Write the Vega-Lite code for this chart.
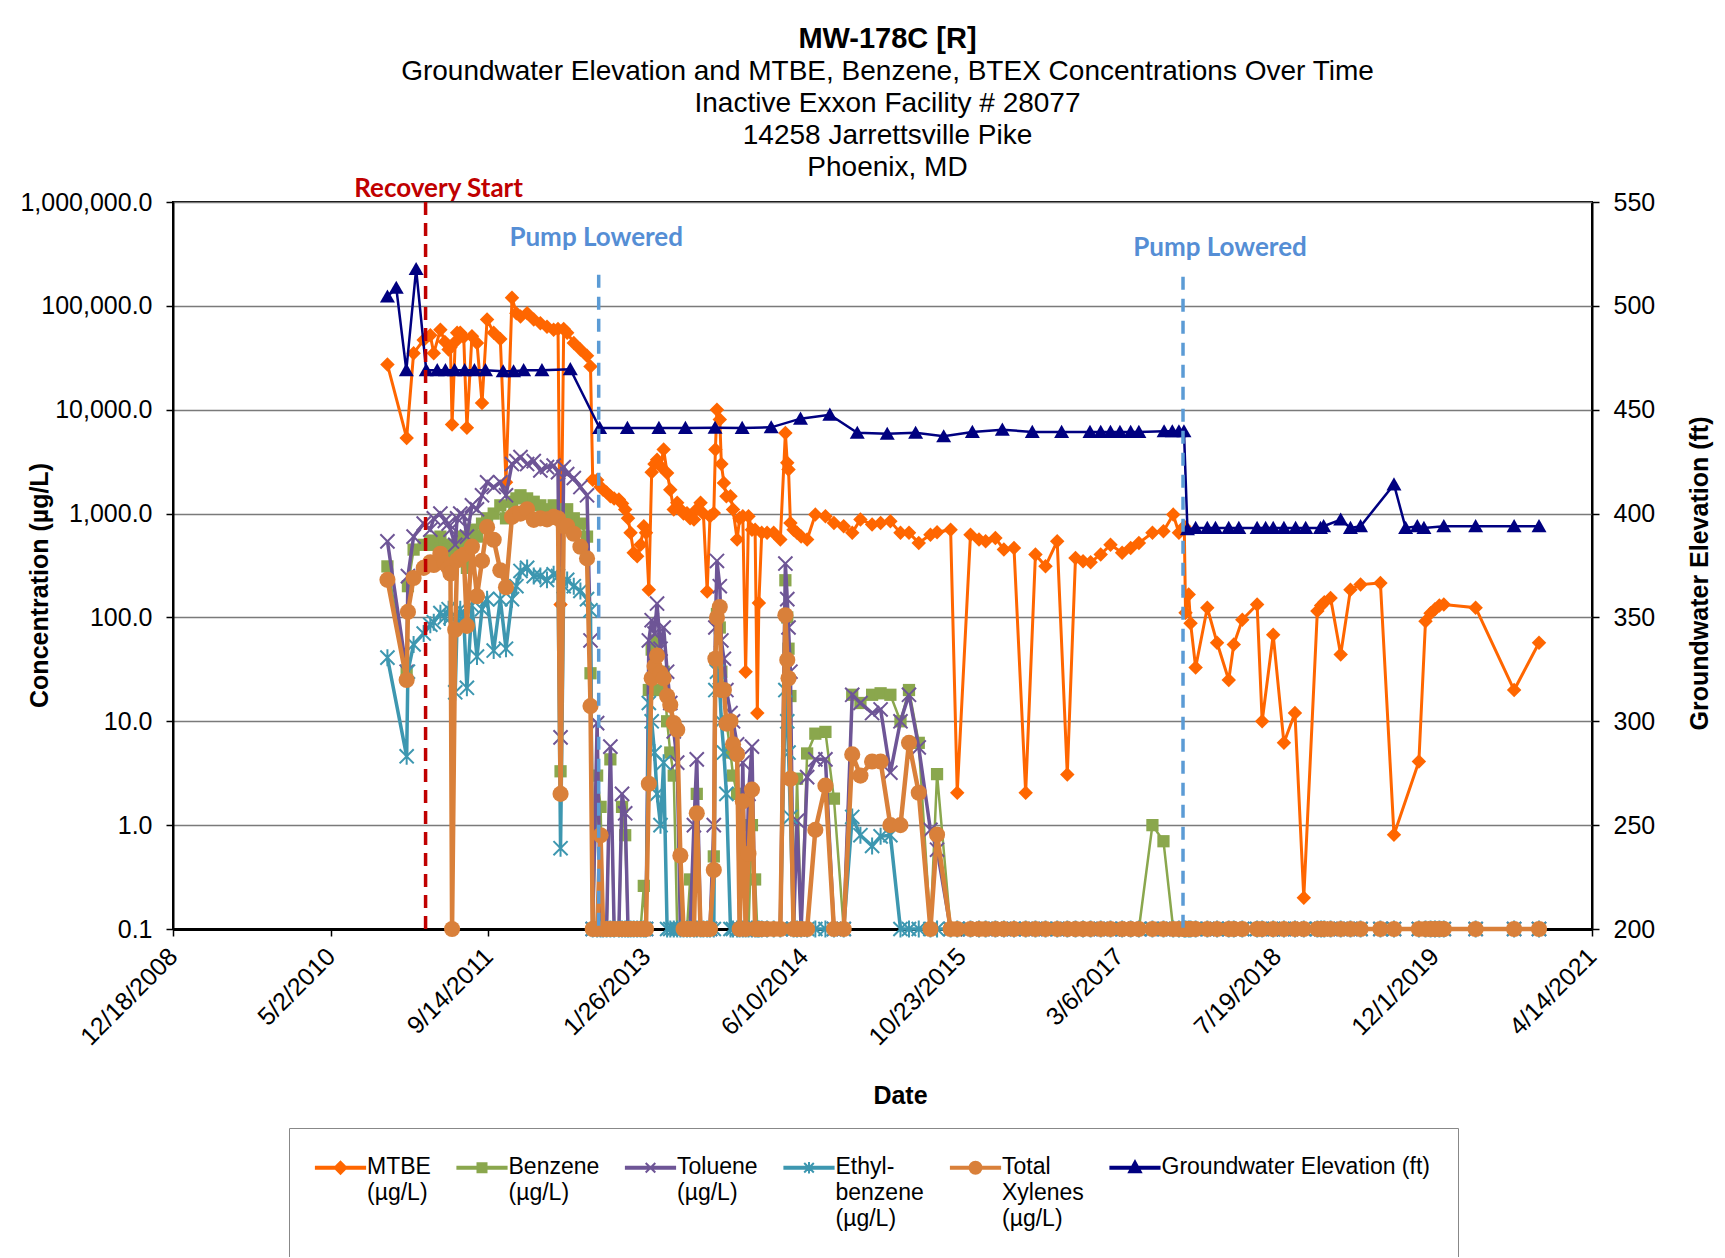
{
"$schema":"https://vega.github.io/schema/vega-lite/v6.json",
"width":1419,"height":727,
"autosize":"none",
"padding":{"left":173,"top":202,"right":133,"bottom":328},
"background":"white",
"config":{
 "font":"Liberation Sans",
 "view":{"stroke":"black","strokeWidth":2},
 "axis":{"labelFont":"Liberation Sans","labelFontSize":25,"labelColor":"black","titleFont":"Liberation Sans","titleFontSize":25,"titleFontWeight":"bold","titleColor":"black","domainColor":"black","tickColor":"black","labelOverlap":false,"labelFlush":false}
},
"title":{"text":"MW-178C [R]","subtitle":["Groundwater Elevation and MTBE, Benzene, BTEX Concentrations Over Time","Inactive Exxon Facility # 28077","14258 Jarrettsville Pike","Phoenix, MD"],"font":"Liberation Sans","fontSize":29,"fontWeight":"bold","color":"black","subtitleFont":"Liberation Sans","subtitleFontSize":28,"subtitleColor":"black","subtitleLineHeight":32,"subtitlePadding":4,"anchor":"middle","frame":"group","offset":-6,"dx":5},
"encoding":{"x":{"field":"d","type":"temporal","title":"Date",
 "scale":{"type":"utc","nice":false,"domain":[{"year":2008,"month":12,"date":18,"utc":true},{"year":2021,"month":4,"date":14,"utc":true}]},
 "axis":{"values":[{"year":2008,"month":12,"date":18,"utc":true},{"year":2010,"month":5,"date":2,"utc":true},{"year":2011,"month":9,"date":14,"utc":true},{"year":2013,"month":1,"date":26,"utc":true},{"year":2014,"month":6,"date":10,"utc":true},{"year":2015,"month":10,"date":23,"utc":true},{"year":2017,"month":3,"date":6,"utc":true},{"year":2018,"month":7,"date":19,"utc":true},{"year":2019,"month":12,"date":1,"utc":true},{"year":2021,"month":4,"date":14,"utc":true}],
  "format":"%-m/%-d/%Y","labelAngle":-45,"labelAlign":"right","labelBaseline":"middle","grid":false,"tickSize":7,"tickWidth":1.5,"domainWidth":3,"labelPadding":16,"titleX":727,"titleY":166,"titleBaseline":"middle","titleAlign":"center"}}},
"layer":[
 {"data":{"values":[
{"d":"2010-10-29","M":27200,"B":310,"T":540,"E":41,"X":230},
{"d":"2010-12-29","M":5350,"B":30,"T":30,"E":4.6,"X":25},
{"d":"2011-01-02","M":null,"B":200,"T":250,"E":30,"X":113},
{"d":"2011-01-20","M":35000,"B":450,"T":600,"E":55,"X":240},
{"d":"2011-02-21","M":47000,"B":500,"T":800,"E":70,"X":300},
{"d":"2011-03-14","M":52000,"B":550,"T":700,"E":85,"X":340},
{"d":"2011-03-25","M":35000,"B":500,"T":900,"E":90,"X":320},
{"d":"2011-04-15","M":59000,"B":600,"T":1000,"E":110,"X":410},
{"d":"2011-04-29","M":45000,"B":500,"T":850,"E":100,"X":330},
{"d":"2011-05-11","M":38000,"B":450,"T":800,"E":120,"X":300},
{"d":"2011-05-17","M":40000,"B":400,"T":700,"E":100,"X":265},
{"d":"2011-05-22","M":7200,"B":null,"T":null,"E":null,"X":0.1},
{"d":"2011-06-01","M":45000,"B":350,"T":500,"E":19,"X":76},
{"d":"2011-06-07","M":55000,"B":500,"T":900,"E":90,"X":355},
{"d":"2011-06-17","M":55000,"B":600,"T":1000,"E":120,"X":380},
{"d":"2011-06-28","M":50000,"B":550,"T":950,"E":100,"X":400},
{"d":"2011-07-08","M":6700,"B":300,"T":600,"E":21,"X":83},
{"d":"2011-07-24","M":51000,"B":700,"T":1200,"E":130,"X":480},
{"d":"2011-08-09","M":44000,"B":600,"T":1100,"E":42,"X":160},
{"d":"2011-08-25","M":11600,"B":800,"T":1500,"E":120,"X":350},
{"d":"2011-09-10","M":74000,"B":900,"T":2000,"E":150,"X":740},
{"d":"2011-10-01","M":55000,"B":1000,"T":1800,"E":48,"X":560},
{"d":"2011-10-22","M":48000,"B":1200,"T":2000,"E":150,"X":285},
{"d":"2011-11-09","M":2000,"B":900,"T":1500,"E":50,"X":195},
{"d":"2011-11-28","M":120000,"B":1300,"T":3000,"E":150,"X":930},
{"d":"2011-12-12","M":85000,"B":1400,"T":3200,"E":200,"X":1000},
{"d":"2011-12-25","M":79000,"B":1500,"T":3500,"E":280,"X":1000},
{"d":"2012-01-15","M":85000,"B":1400,"T":3000,"E":300,"X":1100},
{"d":"2012-02-05","M":74000,"B":1300,"T":3200,"E":250,"X":870},
{"d":"2012-02-26","M":68000,"B":1200,"T":2600,"E":250,"X":900},
{"d":"2012-03-18","M":63000,"B":1100,"T":2800,"E":230,"X":880},
{"d":"2012-04-08","M":59000,"B":1200,"T":2900,"E":260,"X":930},
{"d":"2012-04-22","M":60000,"B":1100,"T":2500,"E":250,"X":900},
{"d":"2012-04-30","M":133,"B":3.3,"T":7,"E":0.6,"X":2},
{"d":"2012-05-10","M":60000,"B":1000,"T":2800,"E":200,"X":760},
{"d":"2012-05-21","M":55000,"B":1100,"T":2400,"E":230,"X":760},
{"d":"2012-06-11","M":44000,"B":900,"T":2200,"E":200,"X":640},
{"d":"2012-07-02","M":38000,"B":800,"T":1800,"E":180,"X":480},
{"d":"2012-07-23","M":33000,"B":600,"T":1500,"E":150,"X":370},
{"d":"2012-08-03","M":26000,"B":29,"T":60,"E":117,"X":14},
{"d":"2012-08-10","M":2120,"B":0.1,"T":0.1,"E":0.1,"X":0.1},
{"d":"2012-08-24","M":2100,"B":3,"T":9.6,"E":0.1,"X":0.1},
{"d":"2012-09-04","M":1800,"B":1.5,"T":0.1,"E":0.1,"X":0.8},
{"d":"2012-09-12","M":1700,"B":0.1,"T":0.1,"E":0.1,"X":0.1},
{"d":"2012-09-23","M":1600,"B":0.1,"T":0.1,"E":0.1,"X":0.1},
{"d":"2012-10-05","M":1470,"B":4.3,"T":5.7,"E":0.1,"X":0.1},
{"d":"2012-10-17","M":1400,"B":0.1,"T":0.1,"E":0.1,"X":0.1},
{"d":"2012-11-01","M":1365,"B":0.1,"T":0.1,"E":0.1,"X":0.1},
{"d":"2012-11-11","M":1250,"B":1.5,"T":2,"E":0.1,"X":0.1},
{"d":"2012-11-21","M":1094,"B":0.8,"T":1.3,"E":0.1,"X":0.1},
{"d":"2012-11-30","M":900,"B":0.1,"T":0.1,"E":0.1,"X":0.1},
{"d":"2012-12-08","M":652,"B":0.1,"T":0.1,"E":0.1,"X":0.1},
{"d":"2012-12-18","M":419,"B":0.1,"T":0.1,"E":0.1,"X":0.1},
{"d":"2012-12-29","M":388,"B":0.1,"T":0.1,"E":0.1,"X":0.1},
{"d":"2013-01-09","M":500,"B":0.1,"T":0.1,"E":0.1,"X":0.1},
{"d":"2013-01-19","M":755,"B":0.26,"T":0.1,"E":0.1,"X":0.1},
{"d":"2013-01-26","M":652,"B":0.1,"T":0.1,"E":0.1,"X":0.1},
{"d":"2013-02-04","M":185,"B":20,"T":60,"E":15,"X":2.5},
{"d":"2013-02-13","M":2500,"B":49,"T":94,"E":10,"X":26},
{"d":"2013-02-22","M":3000,"B":30,"T":70,"E":5,"X":34},
{"d":"2013-03-02","M":3300,"B":60,"T":136,"E":2,"X":43},
{"d":"2013-03-13","M":2860,"B":20,"T":50,"E":1,"X":29},
{"d":"2013-03-23","M":4130,"B":30,"T":80,"E":4,"X":26},
{"d":"2013-04-03","M":2460,"B":10,"T":30,"E":0.1,"X":17.5},
{"d":"2013-04-13","M":1700,"B":5,"T":15,"E":0.1,"X":14.4},
{"d":"2013-04-24","M":1094,"B":3,"T":8,"E":0.1,"X":9.6},
{"d":"2013-05-05","M":1270,"B":0.1,"T":4,"E":0.1,"X":8.3},
{"d":"2013-05-15","M":1100,"B":0.1,"T":0.1,"E":0.1,"X":0.51},
{"d":"2013-05-25","M":1000,"B":0.1,"T":0.1,"E":0.1,"X":0.1},
{"d":"2013-06-05","M":1010,"B":0.1,"T":0.1,"E":0.1,"X":0.1},
{"d":"2013-06-15","M":900,"B":0.3,"T":0.1,"E":0.1,"X":0.1},
{"d":"2013-06-27","M":877,"B":0.1,"T":1,"E":0.1,"X":0.1},
{"d":"2013-07-06","M":1100,"B":2,"T":4.3,"E":0.1,"X":1.3},
{"d":"2013-07-18","M":1270,"B":0.1,"T":0.1,"E":0.1,"X":0.1},
{"d":"2013-07-27","M":1000,"B":0.1,"T":0.1,"E":0.1,"X":0.1},
{"d":"2013-08-08","M":178,"B":0.1,"T":0.1,"E":0.1,"X":0.1},
{"d":"2013-08-17","M":943,"B":0.1,"T":0.1,"E":0.1,"X":0.1},
{"d":"2013-08-29","M":1010,"B":0.5,"T":1,"E":0.1,"X":0.37},
{"d":"2013-09-03","M":4130,"B":40,"T":80,"E":20,"X":40},
{"d":"2013-09-08","M":10000,"B":108,"T":350,"E":30,"X":100},
{"d":"2013-09-17","M":8040,"B":80,"T":200,"E":20,"X":126},
{"d":"2013-09-22","M":3000,"B":30,"T":60,"E":10,"X":20},
{"d":"2013-09-30","M":1970,"B":20,"T":40,"E":5,"X":20},
{"d":"2013-10-08","M":1470,"B":10,"T":20,"E":2,"X":9.5},
{"d":"2013-10-21","M":1470,"B":5,"T":12,"E":0.1,"X":10},
{"d":"2013-10-29","M":1094,"B":3,"T":10,"E":0.1,"X":6},
{"d":"2013-11-11","M":562,"B":2,"T":6,"E":0.1,"X":4.8},
{"d":"2013-11-19","M":900,"B":0.1,"T":0.1,"E":0.1,"X":0.1},
{"d":"2013-11-29","M":943,"B":1,"T":4,"E":0.1,"X":1.7},
{"d":"2013-12-08","M":30,"B":0.1,"T":0.1,"E":0.1,"X":0.1},
{"d":"2013-12-17","M":943,"B":0.1,"T":2,"E":0.1,"X":0.53},
{"d":"2013-12-28","M":700,"B":1,"T":5.7,"E":0.1,"X":2.2},
{"d":"2014-01-07","M":700,"B":0.3,"T":0.1,"E":0.1,"X":0.1},
{"d":"2014-01-14","M":12,"B":0.1,"T":0.1,"E":0.1,"X":0.1},
{"d":"2014-01-19","M":138,"B":0.1,"T":0.1,"E":0.1,"X":0.1},
{"d":"2014-01-28","M":652,"B":0.1,"T":0.1,"E":0.1,"X":0.1},
{"d":"2014-02-14","M":652,"B":0.1,"T":0.1,"E":0.1,"X":0.1},
{"d":"2014-03-07","M":652,"B":0.1,"T":0.1,"E":0.1,"X":0.1},
{"d":"2014-03-28","M":562,"B":0.1,"T":0.1,"E":0.1,"X":0.1},
{"d":"2014-04-13","M":5980,"B":228,"T":330,"E":20,"X":105},
{"d":"2014-04-19","M":3080,"B":100,"T":150,"E":10,"X":39},
{"d":"2014-04-23","M":2650,"B":50,"T":80,"E":5,"X":26},
{"d":"2014-04-29","M":813,"B":17.5,"T":30,"E":1.2,"X":2.8},
{"d":"2014-05-09","M":700,"B":0.1,"T":0.1,"E":0.1,"X":0.1},
{"d":"2014-05-20","M":652,"B":2.8,"T":1.1,"E":0.1,"X":0.1},
{"d":"2014-06-02","M":600,"B":0.1,"T":0.1,"E":0.1,"X":0.1},
{"d":"2014-06-21","M":562,"B":4.9,"T":2.9,"E":0.1,"X":0.1},
{"d":"2014-07-17","M":977,"B":7.6,"T":4.3,"E":0.1,"X":0.9},
{"d":"2014-08-18","M":943,"B":7.9,"T":4.3,"E":0.1,"X":2.4},
{"d":"2014-09-14","M":813,"B":1.8,"T":0.1,"E":0.1,"X":0.1},
{"d":"2014-10-15","M":755,"B":0.1,"T":0.1,"E":0.1,"X":0.1},
{"d":"2014-11-11","M":652,"B":18,"T":18,"E":1.2,"X":4.8},
{"d":"2014-12-07","M":877,"B":15,"T":15,"E":0.8,"X":3},
{"d":"2015-01-13","M":783,"B":18,"T":12,"E":0.63,"X":4.1},
{"d":"2015-02-09","M":813,"B":18.6,"T":13,"E":0.78,"X":4.1},
{"d":"2015-03-12","M":843,"B":18,"T":3.2,"E":0.8,"X":1},
{"d":"2015-04-13","M":652,"B":10,"T":10,"E":0.1,"X":1},
{"d":"2015-05-10","M":652,"B":20,"T":18,"E":0.1,"X":6.2},
{"d":"2015-06-10","M":522,"B":6.2,"T":5.6,"E":0.1,"X":2.05},
{"d":"2015-07-17","M":626,"B":0.1,"T":0.9,"E":0.1,"X":0.1},
{"d":"2015-08-07","M":662,"B":3.1,"T":0.58,"E":0.1,"X":0.81},
{"d":"2015-09-19","M":700,"B":0.1,"T":0.1,"E":0.1,"X":0.1},
{"d":"2015-10-10","M":2.05,"B":0.1,"T":0.1,"E":0.1,"X":0.1},
{"d":"2015-11-21","M":626,"B":0.1,"T":0.1,"E":0.1,"X":0.1},
{"d":"2015-12-18","M":562,"B":0.1,"T":0.1,"E":0.1,"X":0.1},
{"d":"2016-01-08","M":542,"B":0.1,"T":0.1,"E":0.1,"X":0.1},
{"d":"2016-02-08","M":583,"B":0.1,"T":0.1,"E":0.1,"X":0.1},
{"d":"2016-03-06","M":450,"B":0.1,"T":0.1,"E":0.1,"X":0.1},
{"d":"2016-04-07","M":467,"B":0.1,"T":0.1,"E":0.1,"X":0.1},
{"d":"2016-05-14","M":2.05,"B":0.1,"T":0.1,"E":0.1,"X":0.1},
{"d":"2016-06-14","M":404,"B":0.1,"T":0.1,"E":0.1,"X":0.1},
{"d":"2016-07-16","M":311,"B":0.1,"T":0.1,"E":0.1,"X":0.1},
{"d":"2016-08-22","M":542,"B":0.1,"T":0.1,"E":0.1,"X":0.1},
{"d":"2016-09-23","M":3.08,"B":0.1,"T":0.1,"E":0.1,"X":0.1},
{"d":"2016-10-19","M":374,"B":0.1,"T":0.1,"E":0.1,"X":0.1},
{"d":"2016-11-12","M":347,"B":0.1,"T":0.1,"E":0.1,"X":0.1},
{"d":"2016-12-06","M":340,"B":0.1,"T":0.1,"E":0.1,"X":0.1},
{"d":"2017-01-07","M":404,"B":0.1,"T":0.1,"E":0.1,"X":0.1},
{"d":"2017-02-07","M":502,"B":0.1,"T":0.1,"E":0.1,"X":0.1},
{"d":"2017-03-16","M":419,"B":0.1,"T":0.1,"E":0.1,"X":0.1},
{"d":"2017-04-12","M":467,"B":0.1,"T":0.1,"E":0.1,"X":0.1},
{"d":"2017-05-08","M":522,"B":0.1,"T":0.1,"E":0.1,"X":0.1},
{"d":"2017-06-20","M":652,"B":1.0,"T":0.1,"E":0.1,"X":0.1},
{"d":"2017-07-25","M":677,"B":0.7,"T":0.1,"E":0.1,"X":0.1},
{"d":"2017-08-25","M":977,"B":0.1,"T":0.1,"E":0.1,"X":0.1},
{"d":"2017-09-12","M":652,"B":0.1,"T":0.1,"E":0.1,"X":0.1},
{"d":"2017-09-29","M":750,"B":0.1,"T":0.1,"E":0.1,"X":0.1},
{"d":"2017-10-03","M":111,"B":0.1,"T":0.1,"E":0.1,"X":0.1},
{"d":"2017-10-13","M":166,"B":0.1,"T":0.1,"E":0.1,"X":0.1},
{"d":"2017-10-19","M":88,"B":0.1,"T":0.1,"E":0.1,"X":0.1},
{"d":"2017-11-04","M":33,"B":0.1,"T":0.1,"E":0.1,"X":0.1},
{"d":"2017-12-11","M":124,"B":0.1,"T":0.1,"E":0.1,"X":0.1},
{"d":"2018-01-11","M":57,"B":0.1,"T":0.1,"E":0.1,"X":0.1},
{"d":"2018-02-17","M":25,"B":0.1,"T":0.1,"E":0.1,"X":0.1},
{"d":"2018-03-05","M":55,"B":0.1,"T":0.1,"E":0.1,"X":0.1},
{"d":"2018-04-01","M":95,"B":0.1,"T":0.1,"E":0.1,"X":0.1},
{"d":"2018-05-18","M":133,"B":0.1,"T":0.1,"E":0.1,"X":0.1},
{"d":"2018-06-03","M":10,"B":0.1,"T":0.1,"E":0.1,"X":0.1},
{"d":"2018-07-08","M":68,"B":0.1,"T":0.1,"E":0.1,"X":0.1},
{"d":"2018-08-11","M":6.2,"B":0.1,"T":0.1,"E":0.1,"X":0.1},
{"d":"2018-09-15","M":12,"B":0.1,"T":0.1,"E":0.1,"X":0.1},
{"d":"2018-10-13","M":0.2,"B":0.1,"T":0.1,"E":0.1,"X":0.1},
{"d":"2018-11-25","M":115,"B":0.1,"T":0.1,"E":0.1,"X":0.1},
{"d":"2018-12-07","M":130,"B":0.1,"T":0.1,"E":0.1,"X":0.1},
{"d":"2018-12-17","M":140,"B":0.1,"T":0.1,"E":0.1,"X":0.1},
{"d":"2019-01-06","M":154,"B":0.1,"T":0.1,"E":0.1,"X":0.1},
{"d":"2019-02-07","M":44,"B":0.1,"T":0.1,"E":0.1,"X":0.1},
{"d":"2019-03-10","M":185,"B":0.1,"T":0.1,"E":0.1,"X":0.1},
{"d":"2019-04-11","M":207,"B":0.1,"T":0.1,"E":0.1,"X":0.1},
{"d":"2019-06-13","M":215,"B":0.1,"T":0.1,"E":0.1,"X":0.1},
{"d":"2019-07-26","M":0.81,"B":0.1,"T":0.1,"E":0.1,"X":0.1},
{"d":"2019-10-13","M":4.1,"B":0.1,"T":0.1,"E":0.1,"X":0.1},
{"d":"2019-11-03","M":92,"B":0.1,"T":0.1,"E":0.1,"X":0.1},
{"d":"2019-11-19","M":110,"B":0.1,"T":0.1,"E":0.1,"X":0.1},
{"d":"2019-12-03","M":120,"B":0.1,"T":0.1,"E":0.1,"X":0.1},
{"d":"2019-12-17","M":130,"B":0.1,"T":0.1,"E":0.1,"X":0.1},
{"d":"2019-12-31","M":133,"B":0.1,"T":0.1,"E":0.1,"X":0.1},
{"d":"2020-04-10","M":124,"B":0.1,"T":0.1,"E":0.1,"X":0.1},
{"d":"2020-08-10","M":20,"B":0.1,"T":0.1,"E":0.1,"X":0.1},
{"d":"2020-10-28","M":57,"B":0.1,"T":0.1,"E":0.1,"X":0.1}
 ]},
 "transform":[{"fold":["M","B","T","E","X"],"as":["s","v"]},{"filter":"datum.v != null"}],
 "encoding":{
  "y":{"field":"v","type":"quantitative","title":"Concentration (µg/L)",
   "scale":{"type":"log","domain":[0.1,1000000],"nice":false},
   "axis":{"orient":"left","values":[0.1,1,10,100,1000,10000,100000,1000000],"format":",.1f","grid":true,"gridColor":"#7a7a7a","gridWidth":1.5,"domainWidth":2,"tickSize":7,"tickWidth":1.5,"labelPadding":14,"titleX":-134,"titleY":383,"titleAngle":-90,"titleAlign":"center","titleBaseline":"middle"}},
  "color":{"field":"s","type":"nominal",
   "scale":{"domain":["M","B","T","E","X","GW"],"range":["#FF6600","#8AA74D","#6E5596","#3D97B0","#D9803A","#000080"]},
   "legend":{"orient":"none","legendX":116,"legendY":926,"direction":"horizontal","title":null,
    "labelFont":"Liberation Sans","labelFontSize":23,"labelColor":"black","labelLimit":400,"labelBaseline":"top",
    "labelExpr":"datum.value == 'M' ? ['MTBE','(µg/L)',' '] : datum.value == 'B' ? ['Benzene','(µg/L)',' '] : datum.value == 'T' ? ['Toluene','(µg/L)',' '] : datum.value == 'E' ? ['Ethyl-','benzene','(µg/L)'] : datum.value == 'X' ? ['Total','Xylenes','(µg/L)'] : ['Groundwater Elevation (ft)',' ',' ']",
    "symbolSize":144,"symbolStrokeWidth":2,"symbolOffset":12,"labelOffset":15,"columnPadding":21.5,
    "padding":28,"strokeColor":"#888888","fillColor":"white",
    "encode":{
     "symbols":{"update":{
      "shape":{"signal":"datum.value == 'M' ? 'M-4.1,-0.15H4.1V0.15H-4.1Z M0,-1L1,0L0,1L-1,0Z' : datum.value == 'B' ? 'M-4.1,-0.15H4.1V0.15H-4.1Z M-0.75,-0.75H0.75V0.75H-0.75Z' : datum.value == 'T' ? 'M-4.1,-0.15H4.1V0.15H-4.1Z M-0.8,-0.8L0.8,0.8M-0.8,0.8L0.8,-0.8' : datum.value == 'E' ? 'M-4.1,-0.15H4.1V0.15H-4.1Z M-0.8,-0.8L0.8,0.8M-0.8,0.8L0.8,-0.8M0,-0.95V0.95' : datum.value == 'X' ? 'M-4.1,-0.15H4.1V0.15H-4.1Z M-1,0A1,1 0 1,1 1,0A1,1 0 1,1 -1,0Z' : 'M-4.1,-0.15H4.1V0.15H-4.1Z M0,-1.1L1,0.75H-1Z'"},
      "fill":{"signal":"scale('color', datum.value)"},
      "stroke":{"signal":"scale('color', datum.value)"},
      "opacity":{"value":1}}},
     "labels":{"update":{"dy":{"value":-12},"lineHeight":{"value":26}}}}}}
 },
 "layer":[
  {"transform":[{"filter":"datum.s == 'M'"}],"mark":{"type":"line","strokeWidth":3,"point":{"shape":"M0,-1L1,0L0,1L-1,0Z","size":210,"filled":true,"opacity":1}}},
  {"transform":[{"filter":"datum.s == 'B'"}],"mark":{"type":"line","strokeWidth":2.5,"point":{"shape":"M-1,-1H1V1H-1Z","size":150,"filled":true,"opacity":1}}},
  {"transform":[{"filter":"datum.s == 'T'"}],"mark":{"type":"line","strokeWidth":3.5,"point":{"shape":"M-1,-1L1,1M-1,1L1,-1","size":200,"filled":false,"strokeWidth":2,"opacity":1}}},
  {"transform":[{"filter":"datum.s == 'E'"}],"mark":{"type":"line","strokeWidth":3.5,"point":{"shape":"M-1,-1L1,1M-1,1L1,-1M0,-1.2V1.2","size":200,"filled":false,"strokeWidth":2,"opacity":1}}},
  {"transform":[{"filter":"datum.s == 'X'"}],"mark":{"type":"line","strokeWidth":4.5,"point":{"shape":"circle","size":260,"filled":true,"opacity":1}}}
 ]},
 {"encoding":{"y":{"field":"v","type":"quantitative","title":"Groundwater Elevation (ft)",
   "scale":{"domain":[200,550],"nice":false,"zero":false},
   "axis":{"orient":"right","values":[200,250,300,350,400,450,500,550],"format":"d","grid":false,"domainWidth":2,"tickSize":7,"tickWidth":1.5,"labelPadding":14,"titleX":107,"titleY":371,"titleAngle":-90,"titleAlign":"center","titleBaseline":"middle"}}},
  "layer":[
   {"data":{"values":[
{"d":"2010-10-29","v":504.5,"s":"GW"},{"d":"2010-11-26","v":508.7,"s":"GW"},{"d":"2010-12-28","v":469,"s":"GW"},{"d":"2011-01-28","v":517.7,"s":"GW"},
{"d":"2011-03-01","v":469,"s":"GW"},{"d":"2011-04-05","v":469,"s":"GW"},{"d":"2011-05-01","v":469,"s":"GW"},{"d":"2011-05-30","v":469,"s":"GW"},
{"d":"2011-07-01","v":469,"s":"GW"},{"d":"2011-08-01","v":469,"s":"GW"},{"d":"2011-09-05","v":469,"s":"GW"},{"d":"2011-10-31","v":468.5,"s":"GW"},
{"d":"2011-12-03","v":468.5,"s":"GW"},{"d":"2012-01-04","v":469,"s":"GW"},{"d":"2012-03-02","v":469,"s":"GW"},{"d":"2012-05-31","v":469.5,"s":"GW"},
{"d":"2012-09-01","v":441.2,"s":"GW"},{"d":"2012-11-28","v":441.2,"s":"GW"},{"d":"2013-03-08","v":441.2,"s":"GW"},{"d":"2013-05-31","v":441.2,"s":"GW"},
{"d":"2013-09-02","v":441.3,"s":"GW"},{"d":"2013-11-27","v":441.2,"s":"GW"},{"d":"2014-02-27","v":441.5,"s":"GW"},{"d":"2014-05-31","v":445.7,"s":"GW"},
{"d":"2014-09-01","v":447.6,"s":"GW"},{"d":"2014-11-27","v":438.9,"s":"GW"},{"d":"2015-03-02","v":438.4,"s":"GW"},{"d":"2015-05-31","v":438.9,"s":"GW"},
{"d":"2015-08-28","v":437.2,"s":"GW"},{"d":"2015-11-27","v":439.3,"s":"GW"},{"d":"2016-03-01","v":440.4,"s":"GW"},{"d":"2016-06-04","v":439.3,"s":"GW"},
{"d":"2016-09-05","v":439.3,"s":"GW"},{"d":"2016-12-04","v":439.3,"s":"GW"},{"d":"2017-01-07","v":439.3,"s":"GW"},{"d":"2017-02-07","v":439.3,"s":"GW"},
{"d":"2017-03-09","v":439.3,"s":"GW"},{"d":"2017-04-12","v":439.3,"s":"GW"},{"d":"2017-05-08","v":439.3,"s":"GW"},{"d":"2017-07-27","v":439.6,"s":"GW"},
{"d":"2017-08-22","v":439.6,"s":"GW"},{"d":"2017-09-12","v":439.6,"s":"GW"},{"d":"2017-09-28","v":439.6,"s":"GW"},{"d":"2017-10-09","v":392.5,"s":"GW"},
{"d":"2017-11-04","v":393.1,"s":"GW"},{"d":"2017-12-11","v":393.1,"s":"GW"},{"d":"2018-01-06","v":393.1,"s":"GW"},{"d":"2018-02-17","v":393.1,"s":"GW"},
{"d":"2018-03-21","v":393.1,"s":"GW"},{"d":"2018-05-18","v":393.1,"s":"GW"},{"d":"2018-06-14","v":393.1,"s":"GW"},{"d":"2018-07-08","v":393.1,"s":"GW"},
{"d":"2018-08-11","v":393.1,"s":"GW"},{"d":"2018-09-17","v":393.1,"s":"GW"},{"d":"2018-10-19","v":393.1,"s":"GW"},{"d":"2018-12-05","v":393.1,"s":"GW"},
{"d":"2018-12-15","v":393.9,"s":"GW"},{"d":"2019-02-07","v":397.1,"s":"GW"},{"d":"2019-03-10","v":393.1,"s":"GW"},{"d":"2019-04-11","v":393.9,"s":"GW"},
{"d":"2019-07-26","v":414,"s":"GW"},{"d":"2019-09-01","v":393.1,"s":"GW"},{"d":"2019-10-08","v":393.9,"s":"GW"},{"d":"2019-10-29","v":393.1,"s":"GW"},
{"d":"2019-12-31","v":393.9,"s":"GW"},{"d":"2020-04-10","v":393.9,"s":"GW"},{"d":"2020-08-10","v":393.9,"s":"GW"},{"d":"2020-10-28","v":393.9,"s":"GW"}
   ]},
    "mark":{"type":"line","strokeWidth":2.5,"point":{"shape":"M0,-0.95L1,0.8H-1Z","size":225,"filled":true,"opacity":1}},
    "encoding":{"color":{"field":"s","type":"nominal"}}},
   {"data":{"values":[{"d":"2011-02-27","v":550,"v2":200}]},
    "mark":{"type":"rule","color":"#C00000","strokeWidth":3.5,"strokeDash":[13,8]},
    "encoding":{"y2":{"field":"v2"}}},
   {"data":{"values":[{"d":"2012-08-29","v":515,"v2":200},{"d":"2017-09-25","v":514,"v2":200}]},
    "mark":{"type":"rule","color":"#5B9BD5","strokeWidth":3.5,"strokeDash":[13,9]},
    "encoding":{"y2":{"field":"v2"}}},
   {"data":{"values":[{"d":"2011-02-27","v":556.4,"t":"Recovery Start"}]},
    "mark":{"type":"text","font":"Lato","fontWeight":"bold","fontSize":26,"color":"#C00000","dx":13},
    "encoding":{"text":{"field":"t"}}},
   {"data":{"values":[{"d":"2012-08-29","v":532.5,"t":"Pump Lowered"}]},
    "mark":{"type":"text","font":"Lato","fontWeight":"bold","fontSize":26,"color":"#558ED5","dx":-2.5},
    "encoding":{"text":{"field":"t"}}},
   {"data":{"values":[{"d":"2017-09-25","v":527.7,"t":"Pump Lowered"}]},
    "mark":{"type":"text","font":"Lato","fontWeight":"bold","fontSize":26,"color":"#558ED5","dx":37},
    "encoding":{"text":{"field":"t"}}}
  ]}
],
"resolve":{"scale":{"y":"independent"}}
}
